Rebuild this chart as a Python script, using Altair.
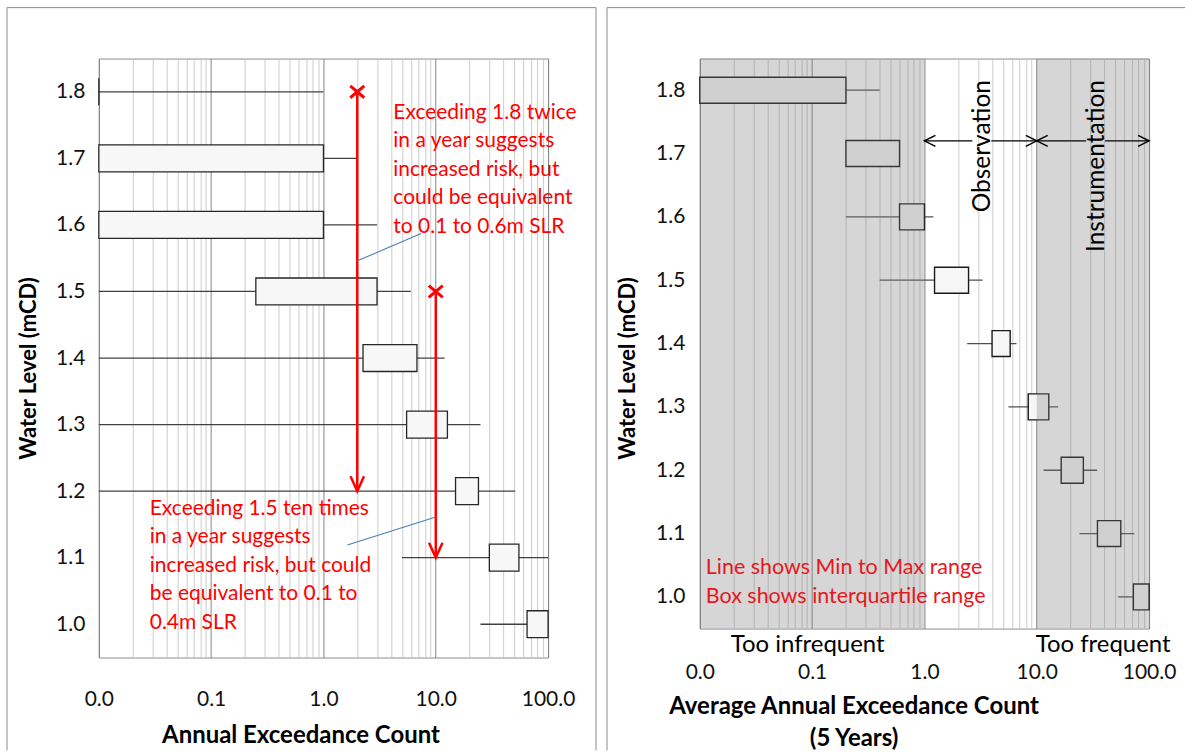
import json
import altair as alt
import pandas as pd

FONT = "Lato"

# ---------------- data ----------------
levels = [1.8, 1.7, 1.6, 1.5, 1.4, 1.3, 1.2, 1.1, 1.0]
y_ticks = [1.0, 1.1, 1.2, 1.3, 1.4, 1.5, 1.6, 1.7, 1.8]
x_major = [0.01, 0.1, 1, 10, 100]

# single-year annual exceedance counts: min, lower quartile, upper quartile, max
ann_min = [0.01, 0.01, 0.01, 0.01, 0.01, 0.01, 0.01, 5.0, 25.0]
ann_q1 = [0.01, 0.01, 0.01, 0.25, 2.25, 5.5, 15.0, 30.0, 65.0]
ann_q3 = [0.01, 1.0, 1.0, 3.0, 6.8, 12.7, 24.0, 55.0, 100.0]
ann_max = [1.0, 2.0, 3.0, 6.0, 12.0, 25.0, 51.0, 100.0, 100.0]

# 5-year average annual exceedance counts
avg_min = [0.01, 0.2, 0.2, 0.4, 2.4, 5.6, 11.5, 24.0, 53.0]
avg_q1 = [0.01, 0.2, 0.6, 1.23, 4.0, 8.4, 16.5, 34.7, 72.5]
avg_q3 = [0.2, 0.6, 1.0, 2.47, 5.8, 12.8, 26.0, 56.0, 100.0]
avg_max = [0.4, 0.6, 1.2, 3.3, 6.6, 15.5, 34.5, 74.0, 100.0]

# risk annotations (left panel): count, level marked with a cross, level pointed to
risk_x = [2, 10]
risk_from = [1.8, 1.5]
risk_to = [1.2, 1.1]
leader_x1 = [2, 10]
leader_y1 = [1.546, 1.161]
leader_x2 = [7.4, 1.63]
leader_y2 = [1.587, 1.119]
note_x = [4.19, 0.0284]
note_y = [1.7685, 1.1733]
note_text = [
    "Exceeding 1.8 twice\nin a year suggests\nincreased risk, but\ncould be equivalent\nto 0.1 to 0.6m SLR",
    "Exceeding 1.5 ten times\nin a year suggests\nincreased risk, but could\nbe equivalent to 0.1 to\n0.4m SLR",
]

# frequency bands (right panel)
band_lo = [0.01, 10]
band_hi = [1, 100]
range_from = [1, 10]
range_to = [10, 100]
range_level = 1.72
range_gap_lo = [2.67, 27.5]
range_gap_hi = [3.94, 40.6]
range_names = ["Observation", "Instrumentation"]
range_label_x = [3.31, 34.1]
range_label_top = 1.816
freq_names = ["Too infrequent", "Too frequent"]
freq_x = [0.0912, 39.0]
key_text = ["Line shows Min to Max range", "Box shows interquartile range"]
key_x = [0.0113, 0.0113]
key_y = [1.045, 1.0]

# ---------------- helpers ----------------
grid_vals = [m * k for m in x_major[:-1] for k in range(1, 10)] + [x_major[-1]]
major_test = f"indexof({json.dumps(x_major)}, datum.value) >= 0"

LEFT_W, LEFT_H = 450, 600
RIGHT_W, RIGHT_H = 450, 571

XS = alt.Scale(type="log", domain=[0.01, 100], nice=False)
YS = alt.Scale(domain=[0.95, 1.85], nice=False, zero=False, padding=0)

RED = "#ff0000"
X_PATH = "M-1,-0.85L1,0.85M-1,0.85L1,-0.85"
CHEV_DOWN = "M-0.9,-2L0,0L0.9,-2"
CHEV_LEFT = "M2,-1L0,0L2,1"
CHEV_RIGHT = "M-2,-1L0,0L-2,1"


def x_axis(title, title_x, title_y, label_pad):
    return alt.Axis(
        values=grid_vals,
        labelExpr=f"({major_test}) ? format(datum.value, '.1f') : ''",
        grid=True,
        gridColor={"condition": {"test": major_test, "value": "#868686"}, "value": "#cccccc"},
        gridWidth=1,
        ticks=False,
        tickSize=0,
        domain=False,
        labelFontSize=21,
        labelColor="#111111",
        labelPadding=label_pad,
        labelBaseline="middle",
        labelFlush=False,
        labelOverlap=False,
        title=title,
        titleFontSize=24,
        titleFontWeight="bold",
        titleColor="#000000",
        titleX=title_x,
        titleY=title_y,
        titleAlign="center",
        titleBaseline="middle",
        titleLineHeight=32,
    )


def y_axis(title_x, title_y, label_pad):
    return alt.Axis(
        values=y_ticks,
        format=".1f",
        grid=False,
        ticks=False,
        tickSize=0,
        domain=False,
        labelFontSize=21,
        labelColor="#111111",
        labelPadding=label_pad,
        title="Water Level (mCD)",
        titleFontSize=22,
        titleFontWeight="bold",
        titleColor="#000000",
        titleAngle=270,
        titleX=title_x,
        titleY=title_y,
        titleAlign="center",
        titleBaseline="middle",
    )


def frame(x0, x1, y0, y1, right_edge=True):
    one = pd.DataFrame({"k": [0]})
    parts = [
        alt.Chart(one).mark_rule(color="#8c8c8c", strokeWidth=1).encode(
            x=alt.value(x0), x2=alt.value(x1), y=alt.value(y0)),
        alt.Chart(one).mark_rule(color="#8c8c8c", strokeWidth=1).encode(
            x=alt.value(x0), y=alt.value(y0), y2=alt.value(y1)),
    ]
    if right_edge:
        parts.append(alt.Chart(one).mark_rule(color="#8c8c8c", strokeWidth=1).encode(
            x=alt.value(x1), y=alt.value(y0), y2=alt.value(y1)))
    return parts


# ---------------- left panel: single-year counts ----------------
ann = pd.DataFrame({"level": levels, "lo": ann_min, "q1": ann_q1, "q3": ann_q3, "hi": ann_max})
risk = pd.DataFrame({"x": risk_x, "top": risk_from, "bottom": risk_to})
leaders = pd.DataFrame({"x1": leader_x1, "y1": leader_y1, "x2": leader_x2, "y2": leader_y2})
notes = pd.DataFrame({"x": note_x, "y": note_y, "t": note_text})

# the axes are defined once, on the whisker layer; the other layers share them
l_whisk = alt.Chart(ann).mark_rule(color="#404040", strokeWidth=1.3).encode(
    x=alt.X("lo:Q", scale=XS, axis=x_axis("Annual Exceedance Count", 202, 78, 42)),
    x2="hi:Q",
    y=alt.Y("level:Q", scale=YS, axis=y_axis(-70, 310, 14)),
)
l_box = alt.Chart(ann).mark_bar(size=27, fill="#f7f7f7", stroke="#262626", strokeWidth=1.3).encode(
    x=alt.X("q1:Q", scale=XS),
    x2="q3:Q",
    y=alt.Y("level:Q", scale=YS),
)
l_red = alt.Chart(risk).mark_rule(color=RED, strokeWidth=2.5).encode(
    x=alt.X("x:Q", scale=XS),
    y=alt.Y("top:Q", scale=YS),
    y2="bottom:Q",
)
l_cross = alt.Chart(risk).mark_point(shape=X_PATH, size=196, filled=False, stroke=RED,
                                     strokeWidth=3, opacity=1).encode(
    x=alt.X("x:Q", scale=XS),
    y=alt.Y("top:Q", scale=YS),
)
l_head = alt.Chart(risk).mark_point(shape=CHEV_DOWN, size=225, filled=False, stroke=RED,
                                    strokeWidth=2.5, opacity=1).encode(
    x=alt.X("x:Q", scale=XS),
    y=alt.Y("bottom:Q", scale=YS),
)
l_lead = alt.Chart(leaders).mark_rule(color="#4a7ebb", strokeWidth=1.1).encode(
    x=alt.X("x1:Q", scale=XS),
    x2="x2:Q",
    y=alt.Y("y1:Q", scale=YS),
    y2="y2:Q",
)
l_notes = alt.Chart(notes).mark_text(align="left", baseline="middle", fontSize=21, color=RED,
                                     lineBreak="\n", lineHeight=28.5).encode(
    x=alt.X("x:Q", scale=XS),
    y=alt.Y("y:Q", scale=YS),
    text="t:N",
)

left = alt.layer(
    l_whisk, l_box, l_red, l_lead, l_cross, l_head, l_notes,
    *frame(-92, 498, -51, 693),
).properties(width=LEFT_W, height=LEFT_H)

# ---------------- right panel: 5-year averages ----------------
avg = pd.DataFrame({"level": levels, "lo": avg_min, "q1": avg_q1, "q3": avg_q3, "hi": avg_max})
bands = pd.DataFrame({"lo": band_lo, "hi": band_hi})
segs = pd.DataFrame({
    "a": range_from + range_gap_hi,
    "b": range_gap_lo + range_to,
    "y": [range_level] * 4,
})
ends = pd.DataFrame({"a": range_from, "b": range_to, "y": [range_level] * 2})
rlabels = pd.DataFrame({"x": range_label_x, "y": [range_label_top] * 2, "t": range_names})
freq = pd.DataFrame({"x": freq_x, "t": freq_names})
key = pd.DataFrame({"x": key_x, "y": key_y, "t": key_text})

r_whisk = alt.Chart(avg).mark_rule(color="#505050", strokeWidth=1.3).encode(
    x=alt.X("lo:Q", scale=XS,
            axis=x_axis(["Average Annual  Exceedance Count", "(5 Years)"], 154, 78, 44)),
    x2="hi:Q",
    y=alt.Y("level:Q", scale=YS, axis=y_axis(-72, 310, 15)),
)
r_box = alt.Chart(avg).mark_bar(size=26, fill="#f6f6f6", stroke="#1a1a1a", strokeWidth=1.4).encode(
    x=alt.X("q1:Q", scale=XS),
    x2="q3:Q",
    y=alt.Y("level:Q", scale=YS),
)
r_band = alt.Chart(bands).mark_rect(color="#7a7a7a", opacity=0.31).encode(
    x=alt.X("lo:Q", scale=XS),
    x2="hi:Q",
    y=alt.value(0),
    y2=alt.value(RIGHT_H),
)
r_seg = alt.Chart(segs).mark_rule(color="#000000", strokeWidth=1.3).encode(
    x=alt.X("a:Q", scale=XS),
    x2="b:Q",
    y=alt.Y("y:Q", scale=YS),
)
r_head_l = alt.Chart(ends).mark_point(shape=CHEV_LEFT, size=121, filled=False, stroke="#000000",
                                      strokeWidth=1.5, opacity=1).encode(
    x=alt.X("a:Q", scale=XS),
    y=alt.Y("y:Q", scale=YS),
)
r_head_r = alt.Chart(ends).mark_point(shape=CHEV_RIGHT, size=121, filled=False, stroke="#000000",
                                      strokeWidth=1.5, opacity=1).encode(
    x=alt.X("b:Q", scale=XS),
    y=alt.Y("y:Q", scale=YS),
)
r_rlab = alt.Chart(rlabels).mark_text(angle=270, align="right", baseline="middle",
                                      fontSize=24.5, color="#000000").encode(
    x=alt.X("x:Q", scale=XS),
    y=alt.Y("y:Q", scale=YS),
    text="t:N",
)
r_freq = alt.Chart(freq).mark_text(align="center", baseline="middle", fontSize=24,
                                   color="#000000").encode(
    x=alt.X("x:Q", scale=XS),
    y=alt.value(RIGHT_H + 16),
    text="t:N",
)
r_key = alt.Chart(key).mark_text(align="left", baseline="middle", fontSize=21.5,
                                 color="#e8161d").encode(
    x=alt.X("x:Q", scale=XS),
    y=alt.Y("y:Q", scale=YS),
    text="t:N",
)

right = alt.layer(
    r_whisk, r_box, r_band, r_seg, r_head_l, r_head_r, r_rlab, r_freq, r_key,
    *frame(-93, 486, -51, 693, right_edge=False),
).properties(width=RIGHT_W, height=RIGHT_H)

chart = (
    alt.hconcat(left, right, spacing=152, bounds="flush")
    .resolve_scale(x="independent", y="independent")
    .properties(padding={"left": 6, "top": 6, "right": 0, "bottom": 0}, background="white")
    .configure(font=FONT)
    .configure_view(stroke="#8c8c8c", strokeWidth=1)
)

chart.save("out.html", embed_options={"renderer": "svg", "actions": False})
